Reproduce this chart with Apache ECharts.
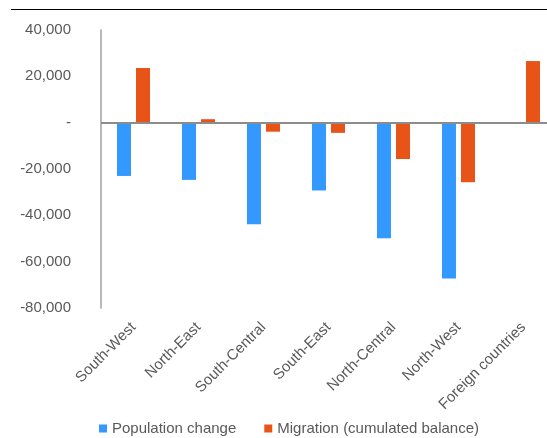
<!DOCTYPE html>
<html>
<head>
<meta charset="utf-8">
<script src="https://cdn.jsdelivr.net/npm/echarts@6/dist/echarts.min.js"></script>
<style>html,body{margin:0;padding:0;background:#fff}#c{width:547px;height:438px}</style>
</head>
<body>
<div id="c"></div>
<script>
const categories = ["South-West","North-East","South-Central","South-East","North-Central","North-West","Foreign countries"];
const populationChange = [-23000,-24700,-43800,-29300,-49900,-67300,0];
const migration = [23600,1500,-3900,-4400,-15700,-25700,26600];
const yTicks = {min:-80000,max:40000,interval:20000};

const chart = echarts.init(document.getElementById('c'));
const font = '"Liberation Sans", Arial, sans-serif';
chart.setOption({
  animation:false,
  textStyle:{fontFamily:font},
  graphic:[{type:'line',shape:{x1:11,y1:9.5,x2:547,y2:9.5},style:{stroke:'#000',lineWidth:1}}],
  grid:{left:101,top:30,width:455,bottom:130,containLabel:false,outerBoundsMode:'none'},
  legend:{
    bottom:-3,left:94,itemWidth:8,itemHeight:8,itemGap:28,icon:'rect',
    textStyle:{fontSize:15,color:'#595959',fontFamily:font},
    data:['Population change','Migration (cumulated balance)']
  },
  xAxis:{
    type:'category',data:categories,
    axisLine:{show:false,onZero:false},axisTick:{show:false},
    axisLabel:{rotate:45,fontSize:15,color:'#595959',margin:17,interval:0,fontFamily:font}
  },
  yAxis:{
    type:'value',min:yTicks.min,max:yTicks.max,interval:yTicks.interval,
    axisLine:{show:true,lineStyle:{color:'#A0A0A0',width:1.5}},
    axisTick:{show:false},splitLine:{show:false},
    axisLabel:{fontSize:15,color:'#595959',margin:30,fontFamily:font,
      formatter:v=> v===0?'-':v.toLocaleString('en-US')}
  },
  series:[
    {name:'Population change',type:'bar',data:populationChange,barWidth:14,barGap:'36%',
     itemStyle:{color:'#3399FF'},
     markLine:{silent:true,symbol:'none',label:{show:false},
       lineStyle:{color:'#8C8C8C',width:2,type:'solid'},data:[{yAxis:0}]}},
    {name:'Migration (cumulated balance)',type:'bar',data:migration,barWidth:14,
     itemStyle:{color:'#E85418'}}
  ]
});
</script>
</body>
</html>
